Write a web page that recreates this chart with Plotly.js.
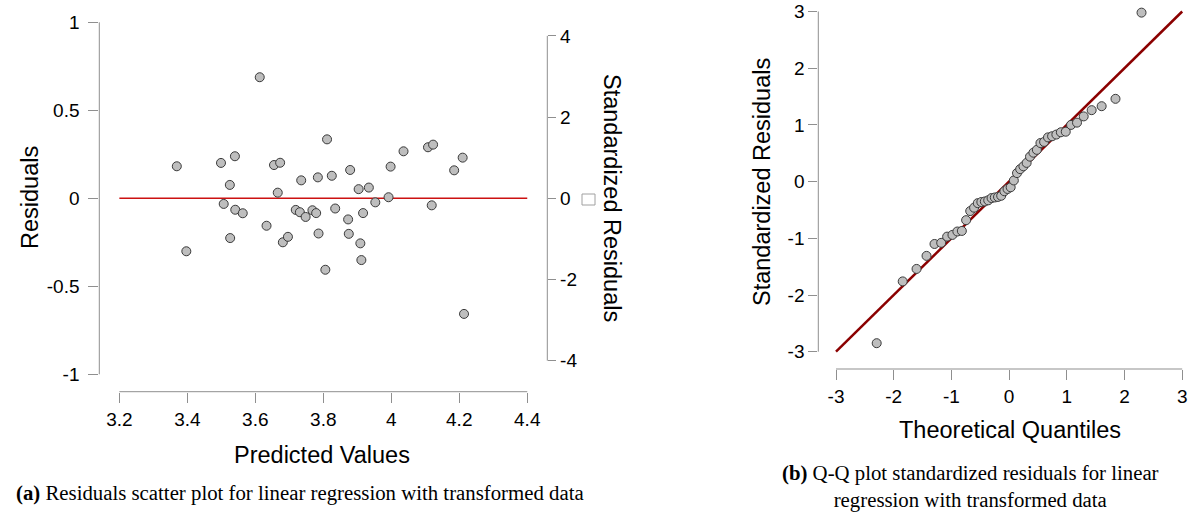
<!DOCTYPE html>
<html>
<head>
<meta charset="utf-8">
<script src="https://cdn.plot.ly/plotly-3.0.1.min.js"></script>
<style>
  html, body { margin: 0; padding: 0; background: #ffffff; }
  #chart { width: 1195px; height: 513px; }
</style>
</head>
<body>
<div id="chart"></div>
<script>
// ---- Panel (a): residuals vs predicted values ----
const predicted = [3.369, 3.397, 3.499, 3.507, 3.525, 3.526, 3.540, 3.541, 3.563, 3.613,
  3.633, 3.655, 3.673, 3.666, 3.681, 3.696, 3.719, 3.731, 3.735, 3.748,
  3.768, 3.779, 3.784, 3.786, 3.806, 3.811, 3.825, 3.835, 3.873, 3.875,
  3.879, 3.904, 3.909, 3.912, 3.917, 3.934, 3.953, 3.992, 3.998, 4.036,
  4.108, 4.119, 4.123, 4.185, 4.210, 4.214];
const residuals = [0.182, -0.301, 0.201, -0.032, 0.076, -0.226, 0.239, -0.065, -0.085, 0.688,
  -0.156, 0.189, 0.202, 0.032, -0.250, -0.219, -0.066, -0.079, 0.102, -0.106,
  -0.068, -0.084, 0.119, -0.200, -0.406, 0.335, 0.128, -0.058, -0.120, -0.202,
  0.161, 0.052, -0.256, -0.351, -0.084, 0.061, -0.023, 0.006, 0.180, 0.267,
  0.290, -0.040, 0.305, 0.159, 0.231, -0.657];
const zeroLineX = [3.2, 4.4];
const zeroLineY = [0, 0];
const predTicks = [3.2, 3.4, 3.6, 3.8, 4.0, 4.2, 4.4];
const predTickText = ['3.2', '3.4', '3.6', '3.8', '4', '4.2', '4.4'];
const residTicks = [-1, -0.5, 0, 0.5, 1];
const residTickText = ['-1', '-0.5', '0', '0.5', '1'];
const stdTicks = [-4, -2, 0, 2, 4];
const stdTickText = ['-4', '-2', '0', '2', '4'];

// ---- Panel (b): Q-Q plot ----
const theoQuantiles = [-2.295, -1.844, -1.604, -1.431, -1.293, -1.177, -1.074, -0.982, -0.897, -0.819,
  -0.745, -0.674, -0.607, -0.543, -0.481, -0.421, -0.362, -0.304, -0.248, -0.192,
  -0.137, -0.082, -0.027, 0.027, 0.082, 0.137, 0.192, 0.248, 0.304, 0.362,
  0.421, 0.481, 0.543, 0.607, 0.674, 0.745, 0.819, 0.897, 0.982, 1.074,
  1.177, 1.293, 1.431, 1.604, 1.844, 2.295];
const stdResiduals = [-2.85, -1.76, -1.54, -1.31, -1.10, -1.08, -0.97, -0.94, -0.88, -0.87,
  -0.68, -0.52, -0.46, -0.38, -0.36, -0.35, -0.33, -0.29, -0.28, -0.27,
  -0.25, -0.17, -0.13, -0.10, 0.02, 0.15, 0.22, 0.27, 0.33, 0.44,
  0.51, 0.56, 0.68, 0.70, 0.78, 0.80, 0.83, 0.87, 0.88, 1.00,
  1.04, 1.15, 1.26, 1.33, 1.46, 2.98];
const qqLineX = [-3, 3];
const qqLineY = [-3, 3];
const qqTicks = [-3, -2, -1, 0, 1, 2, 3];
const qqTickText = ['-3', '-2', '-1', '0', '1', '2', '3'];

// ---- layout geometry (pixels in a 1195x513 page) ----
const W = 1195, H = 513;
const A = { left: 99.3, right: 547.3, top: 4.9, bottom: 391.7,
            xr: [3.141, 4.459], yr: [-1.099, 1.099], y2r: [-4.763, 4.763] };
const B = { left: 818.3, right: 1195, top: 0, bottom: 369,
            xr: [-3.307, 3.222], yr: [-3.305, 3.203] };

function px2paperX(p) { return p / W; }
function px2paperY(p) { return 1 - p / H; }
function valToPaperX(panel, v) {
  const f = (v - panel.xr[0]) / (panel.xr[1] - panel.xr[0]);
  return px2paperX(panel.left + f * (panel.right - panel.left));
}
function valToPaperY(panel, range, v) {
  const f = (v - range[0]) / (range[1] - range[0]);
  return px2paperY(panel.bottom - f * (panel.bottom - panel.top));
}

const FONT = 'Liberation Sans, Arial, Helvetica, sans-serif';
const SERIF = 'Liberation Serif, Times New Roman, serif';
const AXC = '#8f8f8f';
const markerStyle = { size: 9, color: '#bebebe', line: { color: '#3a3a3a', width: 1 } };

const traces = [
  { x: zeroLineX, y: zeroLineY, type: 'scatter', mode: 'lines',
    line: { color: '#cc1111', width: 1.5 }, xaxis: 'x', yaxis: 'y', hoverinfo: 'skip' },
  { x: predicted, y: residuals, type: 'scatter', mode: 'markers',
    marker: markerStyle, xaxis: 'x', yaxis: 'y', cliponaxis: false },
  { x: [null], y: [null], type: 'scatter', mode: 'markers', xaxis: 'x', yaxis: 'y2',
    hoverinfo: 'skip', showlegend: false },
  { x: qqLineX, y: qqLineY, type: 'scatter', mode: 'lines',
    line: { color: '#8b0000', width: 2.5 }, xaxis: 'x3', yaxis: 'y3', hoverinfo: 'skip' },
  { x: theoQuantiles, y: stdResiduals, type: 'scatter', mode: 'markers',
    marker: markerStyle, xaxis: 'x3', yaxis: 'y3', cliponaxis: false }
];

const tickCommon = { ticks: 'outside', tickcolor: AXC, tickwidth: 1,
  showgrid: false, zeroline: false, showline: false,
  tickfont: { family: FONT, size: 19, color: '#000' } };

const lineStyle = { color: AXC, width: 1 };
const shapes = [
  { type: 'line', xref: 'paper', yref: 'paper', line: lineStyle,
    x0: px2paperX(A.left), x1: px2paperX(A.left),
    y0: valToPaperY(A, A.yr, -1), y1: valToPaperY(A, A.yr, 1) },
  { type: 'line', xref: 'paper', yref: 'paper', line: lineStyle,
    x0: valToPaperX(A, 3.2), x1: valToPaperX(A, 4.4),
    y0: px2paperY(A.bottom), y1: px2paperY(A.bottom) },
  { type: 'line', xref: 'paper', yref: 'paper', line: lineStyle,
    x0: px2paperX(A.right), x1: px2paperX(A.right),
    y0: valToPaperY(A, A.y2r, -4), y1: valToPaperY(A, A.y2r, 4) },
  { type: 'rect', xref: 'paper', yref: 'paper', line: { color: '#a0a0a0', width: 1 },
    x0: px2paperX(582), x1: px2paperX(595), y0: px2paperY(205), y1: px2paperY(194) },
  { type: 'line', xref: 'paper', yref: 'paper', line: lineStyle,
    x0: px2paperX(B.left), x1: px2paperX(B.left),
    y0: valToPaperY(B, B.yr, -3), y1: valToPaperY(B, B.yr, 3) },
  { type: 'line', xref: 'paper', yref: 'paper', line: lineStyle,
    x0: valToPaperX(B, -3), x1: valToPaperX(B, 3),
    y0: px2paperY(B.bottom), y1: px2paperY(B.bottom) }
];

const titleFont = { family: FONT, size: 23.5, color: '#000' };
const capFont = { family: SERIF, size: 20.8, color: '#000' };
const annotations = [
  { text: 'Residuals', xref: 'paper', yref: 'paper', x: px2paperX(30), y: px2paperY(198),
    textangle: -90, showarrow: false, font: titleFont, xanchor: 'center', yanchor: 'middle' },
  { text: 'Predicted Values', xref: 'paper', yref: 'paper', x: px2paperX(322), y: px2paperY(455),
    showarrow: false, font: titleFont, xanchor: 'center', yanchor: 'middle' },
  { text: 'Standardized Residuals', xref: 'paper', yref: 'paper', x: px2paperX(612), y: px2paperY(198),
    textangle: 90, showarrow: false, font: titleFont, xanchor: 'center', yanchor: 'middle' },
  { text: 'Standardized Residuals', xref: 'paper', yref: 'paper', x: px2paperX(762), y: px2paperY(182),
    textangle: -90, showarrow: false, font: titleFont, xanchor: 'center', yanchor: 'middle' },
  { text: 'Theoretical Quantiles', xref: 'paper', yref: 'paper', x: px2paperX(1010), y: px2paperY(430),
    showarrow: false, font: titleFont, xanchor: 'center', yanchor: 'middle' },
  { text: '<b>(a)</b> Residuals scatter plot for linear regression with transformed data',
    xref: 'paper', yref: 'paper', x: px2paperX(300), y: px2paperY(493),
    showarrow: false, font: capFont, xanchor: 'center', yanchor: 'middle' },
  { text: '<b>(b)</b> Q-Q plot standardized residuals for linear<br>regression with transformed data',
    xref: 'paper', yref: 'paper', x: px2paperX(970), y: px2paperY(486),
    showarrow: false, font: capFont, xanchor: 'center', yanchor: 'middle', align: 'center' }
];

const layout = {
  width: W, height: H,
  margin: { l: 0, r: 0, t: 0, b: 0, pad: 0 },
  paper_bgcolor: '#ffffff', plot_bgcolor: '#ffffff',
  showlegend: false,
  font: { family: FONT, color: '#000' },
  xaxis: Object.assign({}, tickCommon, {
    domain: [px2paperX(A.left), px2paperX(A.right)], range: A.xr, anchor: 'y',
    tickvals: predTicks, ticktext: predTickText, ticklen: 10 }),
  yaxis: Object.assign({}, tickCommon, {
    domain: [px2paperY(A.bottom), px2paperY(A.top)], range: A.yr, anchor: 'x',
    tickvals: residTicks, ticktext: residTickText, ticklen: 10, ticklabelstandoff: 5 }),
  yaxis2: Object.assign({}, tickCommon, {
    overlaying: 'y', side: 'right', anchor: 'x', range: A.y2r,
    tickvals: stdTicks, ticktext: stdTickText, ticklen: 8 }),
  xaxis3: Object.assign({}, tickCommon, {
    domain: [px2paperX(B.left), 1], range: B.xr, anchor: 'y3',
    tickvals: qqTicks, ticktext: qqTickText, ticklen: 10 }),
  yaxis3: Object.assign({}, tickCommon, {
    domain: [px2paperY(B.bottom), 1], range: B.yr, anchor: 'x3',
    tickvals: qqTicks, ticktext: qqTickText, ticklen: 9 }),
  shapes: shapes,
  annotations: annotations
};

Plotly.newPlot('chart', traces, layout, { staticPlot: true, displayModeBar: false });
</script>
</body>
</html>
